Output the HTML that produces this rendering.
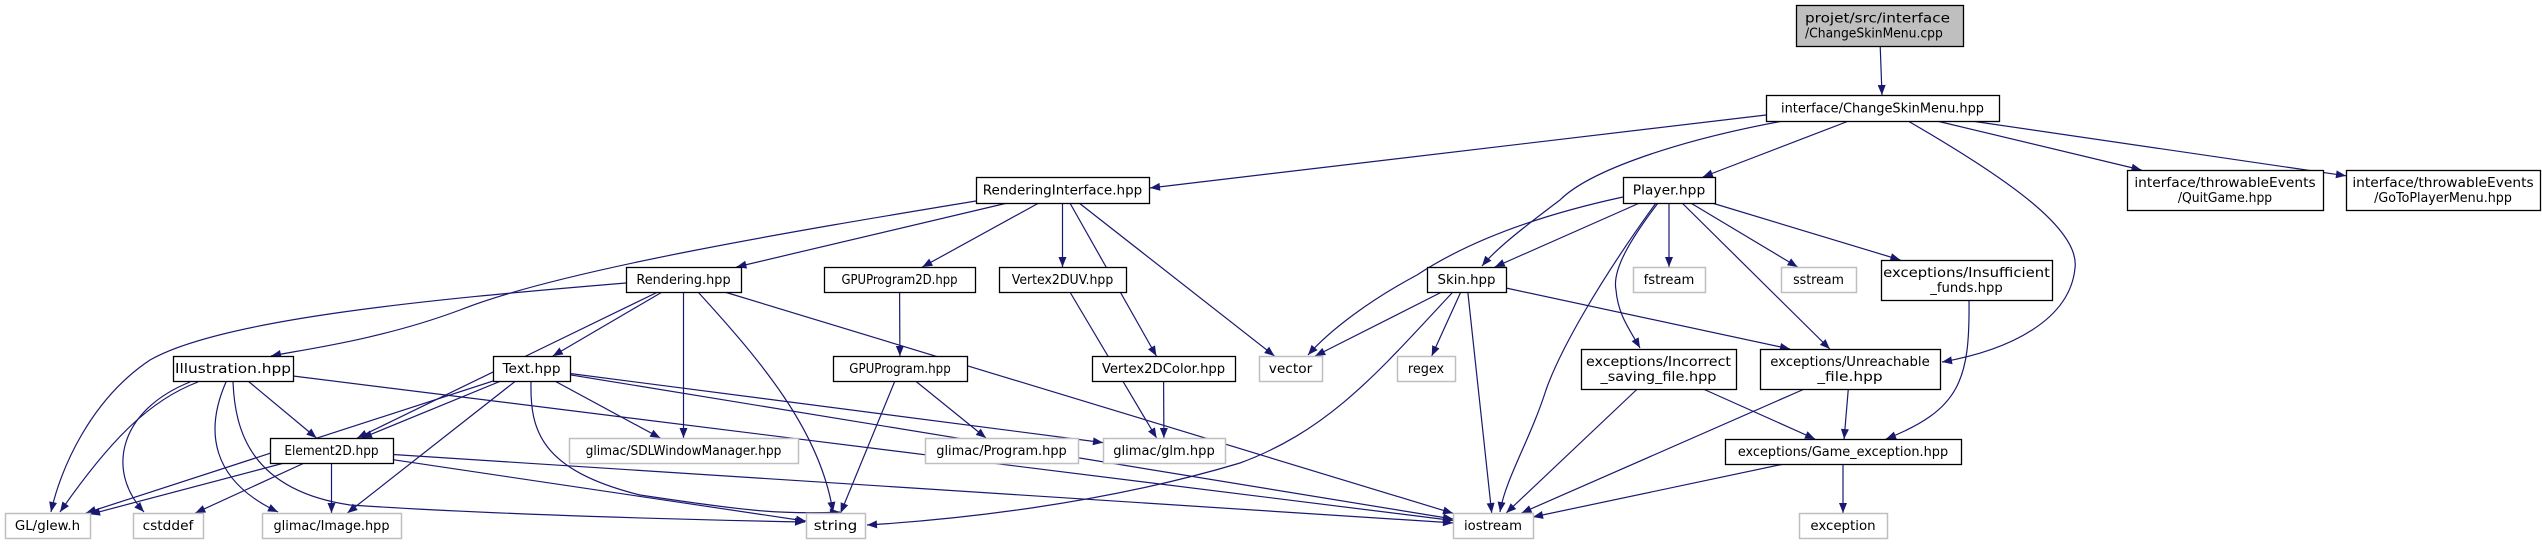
<!DOCTYPE html>
<html><head><meta charset="utf-8"><style>
html,body{margin:0;padding:0;background:#fff;}
svg{display:block;}
text{font-family:"DejaVu Sans","Liberation Sans",sans-serif;font-size:13px;fill:#000;}
</style></head>
<body>
<svg id="g" width="2542" height="544" xmlns="http://www.w3.org/2000/svg">
<defs><marker id="ah" viewBox="0 0 10 10" refX="10" refY="5" markerWidth="11" markerHeight="10" markerUnits="userSpaceOnUse" orient="auto"><path d="M0,1 L10,5 L0,9 z" fill="#191970"/></marker></defs>
<g id="edges"></g><g id="nodes"></g>
</svg>
<script>
const nodeIds=["cpp","csm","ri","player","quit","goto","rendering","gp2d","v2duv","skin","fstream","sstream","insuf","illus","text","gp","v2dc","vector","regex","incorrect","unreach","e2d","sdl","program","glm","gexc","glew","cstddef","image","string","iostream","exception"];
const nodeLabels={cpp:["projet/src/interface","/ChangeSkinMenu.cpp"],csm:["interface/ChangeSkinMenu.hpp"],ri:["RenderingInterface.hpp"],player:["Player.hpp"],quit:["interface/throwableEvents","/QuitGame.hpp"],goto:["interface/throwableEvents","/GoToPlayerMenu.hpp"],rendering:["Rendering.hpp"],gp2d:["GPUProgram2D.hpp"],v2duv:["Vertex2DUV.hpp"],skin:["Skin.hpp"],fstream:["fstream"],sstream:["sstream"],insuf:["exceptions/Insufficient","_funds.hpp"],illus:["Illustration.hpp"],text:["Text.hpp"],gp:["GPUProgram.hpp"],v2dc:["Vertex2DColor.hpp"],vector:["vector"],regex:["regex"],incorrect:["exceptions/Incorrect","_saving_file.hpp"],unreach:["exceptions/Unreachable","_file.hpp"],e2d:["Element2D.hpp"],sdl:["glimac/SDLWindowManager.hpp"],program:["glimac/Program.hpp"],glm:["glimac/glm.hpp"],gexc:["exceptions/Game_exception.hpp"],glew:["GL/glew.h"],cstddef:["cstddef"],image:["glimac/Image.hpp"],string:["string"],iostream:["iostream"],exception:["exception"]};
const nodeRects={cpp:[1796,5,167,41],csm:[1766,95,233,26],ri:[976,177,173,26],player:[1623,177,92,26],quit:[2127,170,196,40],goto:[2346,170,194,40],rendering:[626,267,115,25],gp2d:[824,267,151,25],v2duv:[999,267,127,25],skin:[1427,267,79,25],fstream:[1633,267,72,25],sstream:[1781,267,75,25],insuf:[1881,260,171,40],illus:[173,356,120,25],text:[493,356,77,25],gp:[833,356,134,25],v2dc:[1092,356,143,25],vector:[1259,356,63,25],regex:[1397,356,58,25],incorrect:[1581,349,155,40],unreach:[1760,349,180,40],e2d:[270,438,123,25],sdl:[569,438,229,25],program:[925,438,153,25],glm:[1103,438,122,25],gexc:[1725,439,236,25],glew:[5,513,85,25],cstddef:[133,513,70,25],image:[262,513,139,25],string:[806,513,59,25],iostream:[1453,513,80,25],exception:[1799,513,88,25]};
const grayNodes=["fstream","sstream","vector","regex","sdl","program","glm","glew","cstddef","image","string","iostream","exception"];
const edgeFrom=["cpp","csm","csm","csm","csm","csm","csm","ri","ri","ri","ri","ri","ri","rendering","rendering","rendering","rendering","rendering","rendering","illus","illus","illus","illus","illus","illus","text","text","text","text","text","text","text","e2d","e2d","e2d","e2d","e2d","gp2d","gp","gp","v2duv","v2dc","skin","skin","skin","skin","skin","player","player","player","player","player","player","player","player","incorrect","incorrect","unreach","unreach","insuf","gexc","gexc"];
const edgeTo=["csm","ri","skin","player","unreach","quit","goto","illus","rendering","gp2d","v2duv","v2dc","vector","glew","e2d","text","sdl","string","iostream","glew","cstddef","image","e2d","string","iostream","glew","e2d","image","sdl","string","iostream","glm","glew","cstddef","image","string","iostream","gp","program","string","glm","glm","vector","regex","iostream","string","unreach","vector","skin","fstream","sstream","insuf","unreach","incorrect","iostream","iostream","gexc","iostream","gexc","gexc","iostream","exception"];
// routing for curved edges (path geometry, not data)
const routes={
 "csm-unreach":"M1908,121 C2010,180 2080,230 2075,268 C2070,320 2010,350 1942,362",
 "csm-skin":"M1783,121 C1680,140 1590,170 1560,200 C1520,230 1495,250 1482,266",
 "csm-ri":"M1766,115 L1150,188",
 "ri-illus":"M976,201 C800,230 560,270 460,310 C380,340 300,350 271,356",
 "rendering-glew":"M626,283 C420,300 220,320 150,360 C90,400 60,470 51,512",
 "illus-glew":"M198,382 C150,400 110,440 60,512",
 "illus-cstddef":"M190,382 C120,410 105,470 144,512",
 "illus-image":"M226,382 C205,430 210,480 278,512",
 "illus-string":"M233,382 C235,430 250,490 350,505 C500,515 700,520 805,522",
 "skin-string":"M1452,293 C1380,370 1330,430 1240,463 C1100,505 950,520 867,525",
 "player-vector":"M1623,197 C1540,215 1470,240 1417,275 C1370,300 1330,330 1308,355",
 "player-incorrect":"M1658,203 C1630,240 1612,270 1616,290 C1618,315 1630,330 1640,348",
 "player-iostream":"M1656,203 C1600,280 1560,350 1546,390 C1530,440 1505,480 1500,512",
 "insuf-gexc":"M1969,300 C1970,380 1960,410 1886,439",
 "text-string":"M531,382 C530,430 540,470 640,495 C740,510 780,515 840,512",
 "rendering-string":"M698,292 C760,360 820,430 833,512",
 "skin-unreach":"M1506,288 L1790,349"
};
const NS="http://www.w3.org/2000/svg";
const E=document.getElementById('edges'),N=document.getElementById('nodes');
function clip(r,cx,cy,dx,dy){const hw=r[2]/2,hh=r[3]/2;let t=Infinity;if(dx!==0)t=Math.min(t,hw/Math.abs(dx));if(dy!==0)t=Math.min(t,hh/Math.abs(dy));return [cx+dx*t,cy+dy*t];}
for(let i=0;i<edgeFrom.length;i++){
 const key=edgeFrom[i]+'-'+edgeTo[i];
 const a=nodeRects[edgeFrom[i]],b=nodeRects[edgeTo[i]];
 let d=routes[key];
 if(!d){
  const ax=a[0]+a[2]/2,ay=a[1]+a[3]/2,bx=b[0]+b[2]/2,by=b[1]+b[3]/2;
  const dx=bx-ax,dy=by-ay;
  const p=clip(a,ax,ay,dx,dy),q=clip(b,bx,by,-dx,-dy);
  d='M'+p[0].toFixed(1)+','+p[1].toFixed(1)+' L'+q[0].toFixed(1)+','+q[1].toFixed(1);
 }
 const l=document.createElementNS(NS,'path');
 
 
 l.setAttribute('d',d);
 l.setAttribute('fill','none');l.setAttribute('stroke','#191970');l.setAttribute('stroke-width','1.2');l.setAttribute('marker-end','url(#ah)');
 E.appendChild(l);
}
nodeIds.forEach(id=>{
 const r=nodeRects[id],gray=grayNodes.includes(id);
 const g=document.createElementNS(NS,'g');
 
 
 const rc=document.createElementNS(NS,'rect');
 rc.setAttribute('x',r[0]+0.5);rc.setAttribute('y',r[1]+0.5);rc.setAttribute('width',r[2]);rc.setAttribute('height',r[3]);
 rc.setAttribute('fill',id==='cpp'?'#bfbfbf':'#fff');rc.setAttribute('stroke',gray?'#bfbfbf':'#000');rc.setAttribute('stroke-width',gray?'1.5':'1.3');
 g.appendChild(rc);
 const lines=nodeLabels[id];
 lines.forEach((s,k)=>{
  const t=document.createElementNS(NS,'text');
  
  
  const cy=r[1]+r[3]/2+(k-(lines.length-1)/2)*15+4.5;
  t.setAttribute('x',(lines.length>1&&id==='cpp')?r[0]+9:r[0]+r[2]/2);
  t.setAttribute('y',cy);
  t.setAttribute('text-anchor',(lines.length>1&&id==='cpp')?'start':'middle');
  t.setAttribute('textLength',(s.length*7.25).toFixed(1));
  t.setAttribute('lengthAdjust','spacingAndGlyphs');
  t.textContent=s;g.appendChild(t);
 });
 N.appendChild(g);
});
</script>
</body></html>
